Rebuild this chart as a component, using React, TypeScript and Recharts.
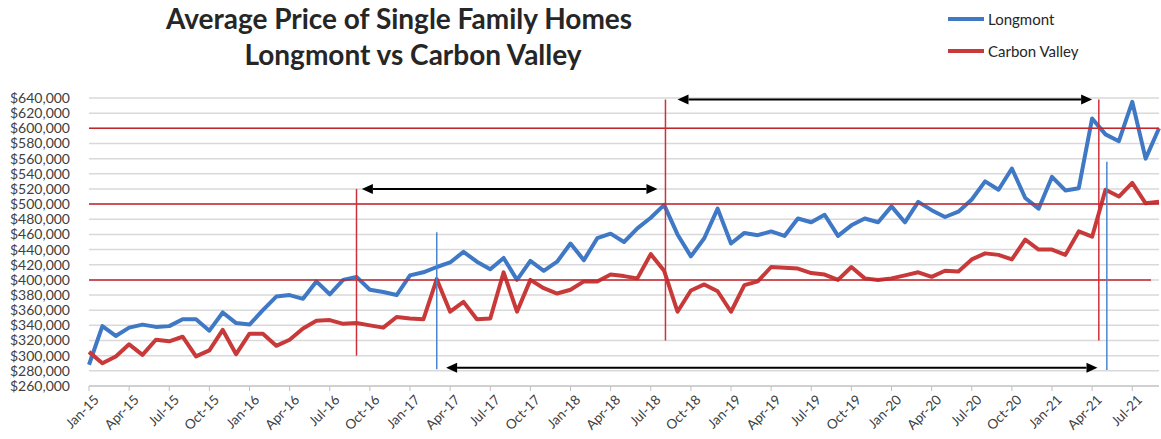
import React from 'react'
import { LineChart, Line, XAxis, YAxis, CartesianGrid, ReferenceLine } from 'recharts'

// monthly labels, Jan-15 .. Sep-21
const months = [
  'Jan-15', 'Feb-15', 'Mar-15', 'Apr-15', 'May-15', 'Jun-15', 'Jul-15', 'Aug-15', 'Sep-15', 'Oct-15', 'Nov-15', 'Dec-15',
  'Jan-16', 'Feb-16', 'Mar-16', 'Apr-16', 'May-16', 'Jun-16', 'Jul-16', 'Aug-16', 'Sep-16', 'Oct-16', 'Nov-16', 'Dec-16',
  'Jan-17', 'Feb-17', 'Mar-17', 'Apr-17', 'May-17', 'Jun-17', 'Jul-17', 'Aug-17', 'Sep-17', 'Oct-17', 'Nov-17', 'Dec-17',
  'Jan-18', 'Feb-18', 'Mar-18', 'Apr-18', 'May-18', 'Jun-18', 'Jul-18', 'Aug-18', 'Sep-18', 'Oct-18', 'Nov-18', 'Dec-18',
  'Jan-19', 'Feb-19', 'Mar-19', 'Apr-19', 'May-19', 'Jun-19', 'Jul-19', 'Aug-19', 'Sep-19', 'Oct-19', 'Nov-19', 'Dec-19',
  'Jan-20', 'Feb-20', 'Mar-20', 'Apr-20', 'May-20', 'Jun-20', 'Jul-20', 'Aug-20', 'Sep-20', 'Oct-20', 'Nov-20', 'Dec-20',
  'Jan-21', 'Feb-21', 'Mar-21', 'Apr-21', 'May-21', 'Jun-21', 'Jul-21', 'Aug-21', 'Sep-21'
]

// average price, thousands of $
const longmont = [
  288, 339, 326, 337, 341, 338, 339, 348, 348, 333, 357, 343,
  341, 360, 378, 380, 375, 398, 381, 400, 404, 387, 384, 380,
  406, 410, 417, 423, 437, 424, 414, 429, 400, 425, 412, 424,
  448, 426, 455, 461, 450, 468, 482, 499, 460, 431, 455, 494,
  448, 462, 459, 464, 458, 481, 476, 486, 458, 472, 481, 476,
  497, 476, 503, 492, 483, 490, 506, 530, 519, 547, 508, 494,
  536, 518, 521, 613, 592, 583, 635, 560, 600
]

const carbonValley = [
  305, 290, 299, 315, 301, 321, 319, 325, 299, 307, 334, 302,
  329, 329, 313, 321, 336, 346, 347, 342, 343, 340, 337, 351,
  349, 348, 401, 358, 371, 348, 349, 410, 358, 400, 389, 382,
  387, 398, 398, 407, 405, 402, 434, 412, 358, 386, 394, 385,
  358, 393, 398, 417, 416, 415, 409, 407, 400, 417, 402, 400,
  402, 406, 410, 404, 412, 411, 427, 435, 433, 427, 453, 440,
  440, 433, 464, 457, 519, 510, 528, 501, 503
]

const xTickIdx = [0, 3, 6, 9, 12, 15, 18, 21, 24, 27, 30, 33, 36, 39, 42, 45, 48, 51, 54, 57, 60, 63, 66, 69, 72, 75, 78]
const yTicks = [
  260000, 280000, 300000, 320000, 340000, 360000, 380000, 400000, 420000, 440000,
  460000, 480000, 500000, 520000, 540000, 560000, 580000, 600000, 620000, 640000
]

// threshold lines
const redLevels = [
  { y: 600000, x1: 0, x2: 80 },
  { y: 500000, x1: 0, x2: 80 },
  { y: 400000, x1: 0, x2: 79.4 }
]
// vertical markers: month index, from, to
const redMarkers = [
  { x: 20, y1: 300000, y2: 520000 },
  { x: 43.1, y1: 320000, y2: 638000 },
  { x: 75.5, y1: 320000, y2: 638000 }
]
const blueMarkers = [
  { x: 26, y1: 282000, y2: 463000 },
  { x: 76.1, y1: 281000, y2: 556000 }
]
// double-headed arrows
const arrows = [
  { y: 520000, x1: 20.4, x2: 42.5 },
  { y: 638000, x1: 44.0, x2: 75.0 },
  { y: 284000, x1: 26.7, x2: 75.4 }
]

const BLUE = '#3f78c4'
const RED = '#c83a3a'
const FONT = 'Lato, "Open Sans", sans-serif'

const chartData = months.map((m, i) => ({
  idx: i,
  month: m,
  longmont: longmont[i] * 1000,
  carbon: carbonValley[i] * 1000
}))

const ArrowShape = (props: any) => {
  const { x1, y1, x2 } = props
  const left = Math.min(x1, x2)
  const right = Math.max(x1, x2)
  const y = y1
  const h = 11
  const w = 5
  return (
    <g>
      <line x1={left + h} y1={y} x2={right - h} y2={y} stroke="#000" strokeWidth={2} />
      <polygon points={`${left},${y} ${left + h},${y - w} ${left + h},${y + w}`} fill="#000" />
      <polygon points={`${right},${y} ${right - h},${y - w} ${right - h},${y + w}`} fill="#000" />
    </g>
  )
}

export default function App() {
  return (
    <div style={{ position: 'absolute', left: 0, top: 0, width: 1161, height: 439, background: '#fff', fontFamily: FONT }}>
      {/* title */}
      <div style={{ position: 'absolute', left: 99, width: 600, top: 0, textAlign: 'center', fontWeight: 700, fontSize: 28, color: '#262626', lineHeight: '36px' }}>
        Average Price of Single Family Homes
      </div>
      <div style={{ position: 'absolute', left: 113, width: 600, top: 36, textAlign: 'center', fontWeight: 700, fontSize: 28, color: '#262626', lineHeight: '36px' }}>
        Longmont vs Carbon Valley
      </div>

      {/* legend */}
      <div style={{ position: 'absolute', left: 948, top: 8, fontSize: 15, color: '#262626' }}>
        <div style={{ display: 'flex', alignItems: 'center', height: 22 }}>
          <span style={{ display: 'inline-block', width: 36, height: 4, background: BLUE, marginRight: 4 }} />
          Longmont
        </div>
        <div style={{ display: 'flex', alignItems: 'center', height: 22, marginTop: 10 }}>
          <span style={{ display: 'inline-block', width: 36, height: 4, background: RED, marginRight: 4 }} />
          Carbon Valley
        </div>
      </div>

      <LineChart
        width={1161}
        height={439}
        data={chartData}
        margin={{ top: 98, right: 2, left: 0, bottom: 0 }}
        style={{ position: 'absolute', left: 0, top: 0 }}
      >
        <CartesianGrid vertical={false} stroke="#d9d9d9" strokeWidth={1.5} />
        <XAxis
          dataKey="idx"
          type="number"
          domain={[0, 80]}
          ticks={xTickIdx}
          interval={0}
          tickFormatter={(v: number) => months[v]}
          height={53}
          angle={-45}
          textAnchor="end"
          tick={{ fill: '#404040', fontSize: 13.5, fontFamily: FONT, dx: 4 }}
          axisLine={{ stroke: '#bfbfbf' }}
          tickLine={{ stroke: '#bfbfbf' }}
          tickSize={5}
          tickMargin={3}
        />
        <YAxis
          width={89}
          domain={[260000, 640000]}
          ticks={yTicks}
          interval={0}
          tickFormatter={(v: number) => '$' + v.toLocaleString('en-US')}
          tick={{ fill: '#404040', fontSize: 14, fontFamily: FONT }}
          axisLine={false}
          tickLine={false}
          tickSize={0}
          tickMargin={19}
        />
        <Line
          type="linear"
          dataKey="longmont"
          name="Longmont"
          stroke={BLUE}
          strokeWidth={4}
          dot={false}
          strokeLinejoin="round"
          isAnimationActive={false}
        />
        <Line
          type="linear"
          dataKey="carbon"
          name="Carbon Valley"
          stroke={RED}
          strokeWidth={4}
          dot={false}
          strokeLinejoin="round"
          isAnimationActive={false}
        />

        {redLevels.map((r, i) => (
          <ReferenceLine
            key={'lv' + i}
            segment={[{ x: r.x1, y: r.y }, { x: r.x2, y: r.y }]}
            stroke="#c0262c"
            strokeWidth={1.5}
            ifOverflow="visible"
          />
        ))}
        {redMarkers.map((m, i) => (
          <ReferenceLine
            key={'rm' + i}
            segment={[{ x: m.x, y: m.y1 }, { x: m.x, y: m.y2 }]}
            stroke="#d0303a"
            strokeWidth={1.5}
            ifOverflow="visible"
          />
        ))}
        {blueMarkers.map((m, i) => (
          <ReferenceLine
            key={'bm' + i}
            segment={[{ x: m.x, y: m.y1 }, { x: m.x, y: m.y2 }]}
            stroke="#4a86cf"
            strokeWidth={1.5}
            ifOverflow="visible"
          />
        ))}
        {arrows.map((a, i) => (
          <ReferenceLine
            key={'ar' + i}
            segment={[{ x: a.x1, y: a.y }, { x: a.x2, y: a.y }]}
            shape={ArrowShape}
            ifOverflow="visible"
          />
        ))}
      </LineChart>
    </div>
  )
}
